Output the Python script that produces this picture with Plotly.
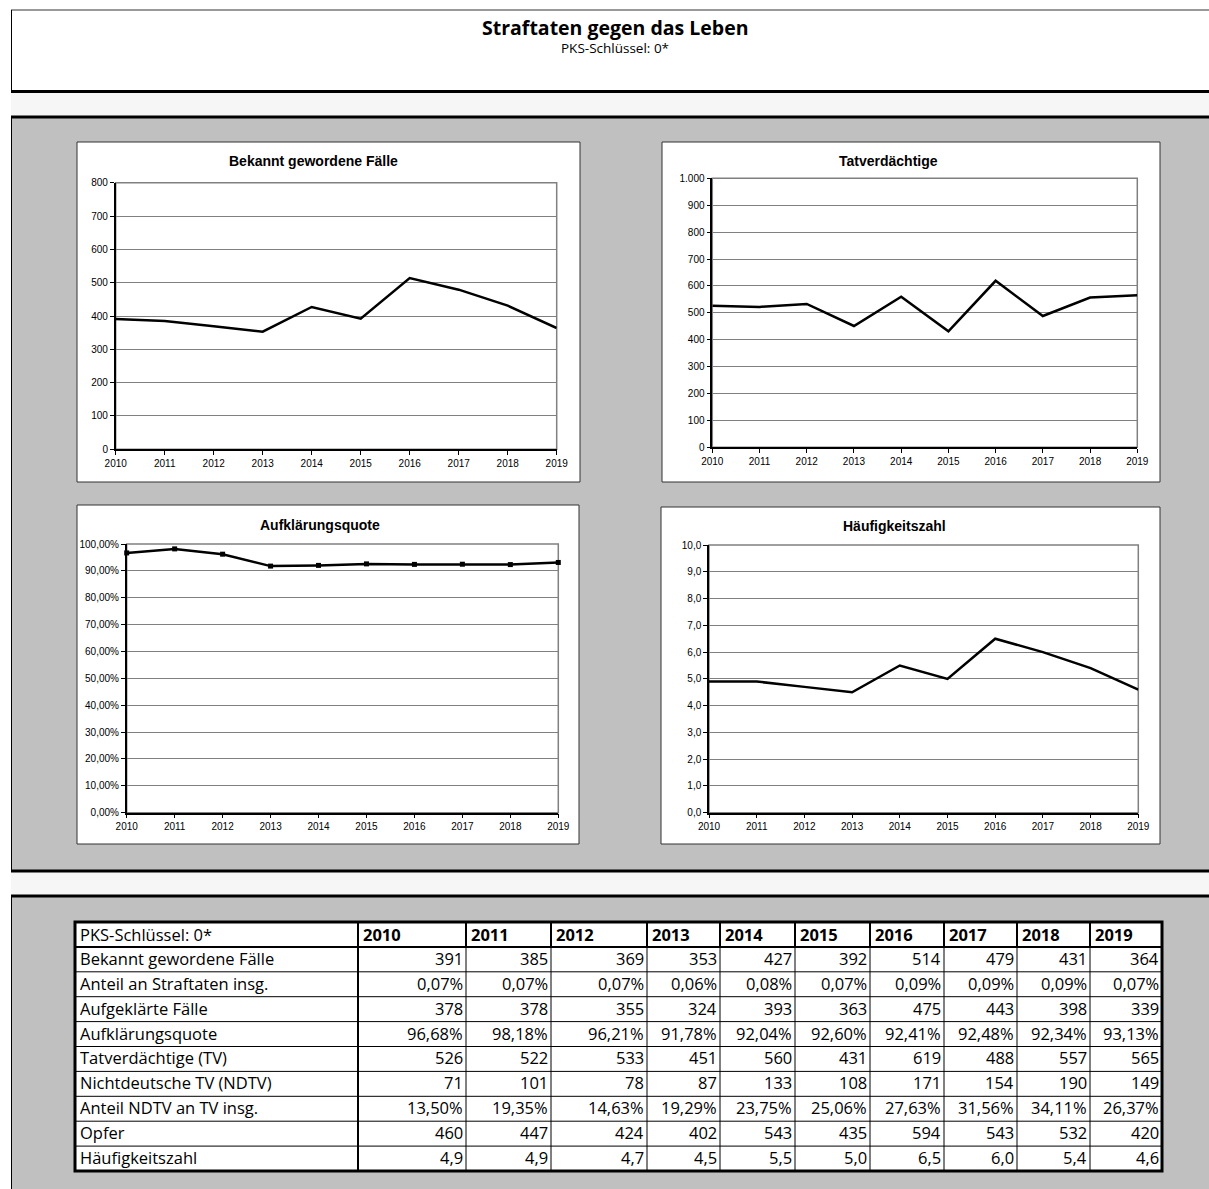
import plotly.graph_objects as go

W, H = 1209, 1189

# ---------------------------------------------------------------- data
years = [2010, 2011, 2012, 2013, 2014, 2015, 2016, 2017, 2018, 2019]
faelle = [391, 385, 369, 353, 427, 392, 514, 479, 431, 364]
anteil_straftaten = [0.07, 0.07, 0.07, 0.06, 0.08, 0.07, 0.09, 0.09, 0.09, 0.07]
aufgeklaert = [378, 378, 355, 324, 393, 363, 475, 443, 398, 339]
aufklaerungsquote = [96.68, 98.18, 96.21, 91.78, 92.04, 92.60, 92.41, 92.48, 92.34, 93.13]
tatverdaechtige = [526, 522, 533, 451, 560, 431, 619, 488, 557, 565]
ndtv = [71, 101, 78, 87, 133, 108, 171, 154, 190, 149]
anteil_ndtv = [13.50, 19.35, 14.63, 19.29, 23.75, 25.06, 27.63, 31.56, 34.11, 26.37]
opfer = [460, 447, 424, 402, 543, 435, 594, 543, 532, 420]
haeufigkeitszahl = [4.9, 4.9, 4.7, 4.5, 5.5, 5.0, 6.5, 6.0, 5.4, 4.6]

row_labels = [
    "Bekannt gewordene Fälle",
    "Anteil an Straftaten insg.",
    "Aufgeklärte Fälle",
    "Aufklärungsquote",
    "Tatverdächtige (TV)",
    "Nichtdeutsche TV (NDTV)",
    "Anteil NDTV an TV insg.",
    "Opfer",
    "Häufigkeitszahl",
]


def de_num(v, dec):
    return f"{v:.{dec}f}".replace(".", ",")


def de_pct(v):
    return de_num(v, 2) + "%"


row_cells = [
    [str(v) for v in faelle],
    [de_pct(v) for v in anteil_straftaten],
    [str(v) for v in aufgeklaert],
    [de_pct(v) for v in aufklaerungsquote],
    [str(v) for v in tatverdaechtige],
    [str(v) for v in ndtv],
    [de_pct(v) for v in anteil_ndtv],
    [str(v) for v in opfer],
    [de_num(v, 1) for v in haeufigkeitszahl],
]


# ---------------------------------------------------------------- helpers
def px(x):
    return x / W


def py(y):
    return 1 - y / H


ARIAL = "Arial, Liberation Sans, sans-serif"
SANS = "Open Sans, Noto Sans, sans-serif"
PANEL = "#c0c0c0"
BAND = "#f6f6f6"

shapes = []
annotations = []


def rect(x0, y0, x1, y1, fill, line_color=None, line_width=0):
    shapes.append(dict(
        type="rect", xref="paper", yref="paper",
        x0=px(x0), x1=px(x1), y0=py(y1), y1=py(y0),
        fillcolor=fill, line=dict(color=line_color or fill, width=line_width),
        layer="below"))


def hline(x0, x1, y, width=1, color="black"):
    shapes.append(dict(
        type="line", xref="paper", yref="paper",
        x0=px(x0), x1=px(x1), y0=py(y), y1=py(y),
        line=dict(color=color, width=width), layer="below"))


def vline(x, y0, y1, width=1, color="black"):
    shapes.append(dict(
        type="line", xref="paper", yref="paper",
        x0=px(x), x1=px(x), y0=py(y0), y1=py(y1),
        line=dict(color=color, width=width), layer="below"))


def text(x, y, s, size, family=SANS, bold=False, xanchor="center"):
    annotations.append(dict(
        xref="paper", yref="paper", x=px(x), y=py(y),
        text=f"<b>{s}</b>" if bold else s, showarrow=False,
        xanchor=xanchor, yanchor="middle", borderpad=0,
        font=dict(family=family, size=size, color="black")))


# ---------------------------------------------------------------- page frame
RIGHT = 1215
rect(11, 10, RIGHT, 91, "white")
hline(11, RIGHT, 10, 1, "#333333")
vline(11.5, 10, 91)
rect(11, 92, RIGHT, 116, BAND)
rect(11, 117, RIGHT, 871, PANEL)
vline(11.5, 117, 871)
rect(11, 872, RIGHT, 895, BAND)
rect(11, 896, RIGHT, 1195, PANEL)
vline(11.5, 896, 1195)
for yy in (91.5, 117, 871, 896):
    hline(11, RIGHT, yy, 3)

text(615, 27, "Straftaten gegen das Leben", 19.5, bold=True)
text(615, 48.5, "PKS-Schlüssel: 0*", 13.5)

# ---------------------------------------------------------------- charts
charts = [
    dict(title="Bekannt gewordene Fälle", values=faelle,
         box=(77, 142, 580, 482), area=(115.7, 182.7, 556.7, 449.3),
         title_pos=(313, 161.5), rng=[0, 800], dtick=100, fmt="d", markers=False),
    dict(title="Tatverdächtige", values=tatverdaechtige,
         box=(662, 142, 1160, 482), area=(712.3, 178.3, 1137.3, 447.3),
         title_pos=(889, 160.5), rng=[0, 1000], dtick=100, fmt=",d", markers=False),
    dict(title="Aufklärungsquote", values=[v / 100 for v in aufklaerungsquote],
         box=(77, 505, 579, 844), area=(126.7, 544, 558.3, 812.7),
         title_pos=(320, 524.5), rng=[0, 1], dtick=0.1, fmt=".2%", markers=True),
    dict(title="Häufigkeitszahl", values=haeufigkeitszahl,
         box=(661, 507, 1160, 844), area=(709, 545, 1138.3, 812.7),
         title_pos=(894, 526), rng=[0, 10], dtick=1, fmt=".1f", markers=False),
]

fig = go.Figure()
layout_axes = {}
for i, c in enumerate(charts, start=1):
    sfx = "" if i == 1 else str(i)
    bx0, by0, bx1, by1 = c["box"]
    rect(bx0, by0, bx1, by1, "white", "#333333", 1)
    ax0, ay0, ax1, ay1 = c["area"]

    fig.add_trace(go.Scatter(
        x=years, y=c["values"], xaxis="x" + sfx, yaxis="y" + sfx,
        mode="lines+markers" if c["markers"] else "lines",
        line=dict(color="black", width=2.5),
        marker=dict(symbol="square", size=5, color="black"),
        cliponaxis=False, showlegend=False, hoverinfo="x+y"))

    # grey frame on top/right of the plot area
    shapes.append(dict(type="rect", xref=f"x{sfx} domain", yref=f"y{sfx} domain",
                       x0=0, x1=1, y0=0, y1=1, line=dict(color="#808080", width=1.5),
                       layer="below"))

    layout_axes["xaxis" + sfx] = dict(
        domain=[px(ax0), px(ax1)], anchor="y" + sfx, range=[2010, 2019],
        tickmode="array", tickvals=years, tickformat="d",
        showgrid=False, zeroline=False, showline=True, linecolor="black", linewidth=1.5,
        ticks="outside", ticklen=4, tickwidth=1, tickcolor="black",
        tickfont=dict(family=ARIAL, size=10, color="black"), fixedrange=True)
    layout_axes["yaxis" + sfx] = dict(
        domain=[py(ay1), py(ay0)], anchor="x" + sfx, range=c["rng"],
        tick0=0, dtick=c["dtick"], tickformat=c["fmt"],
        showgrid=True, gridcolor="#808080", gridwidth=1, zeroline=False,
        showline=True, linecolor="black", linewidth=1.5,
        ticks="outside", ticklen=4, tickwidth=1, tickcolor="black",
        tickfont=dict(family=ARIAL, size=10, color="black"), fixedrange=True)

    tx, ty = c["title_pos"]
    text(tx, ty, c["title"], 14, family=ARIAL, bold=True)

# ---------------------------------------------------------------- table
col_edges = [75, 358, 466, 551, 647, 720, 795, 870, 944, 1017, 1090, 1162]
top, row_h = 922, 24.9
n_rows = len(row_labels) + 1
row_edges = [top + row_h * k for k in range(n_rows + 1)]
bottom = row_edges[-1]

rect(col_edges[0], top, col_edges[-1], bottom, "white")
for k, yy in enumerate(row_edges[1:-1], start=1):
    hline(col_edges[0], col_edges[-1], yy, 2 if k == 1 else 1)
for k, xx in enumerate(col_edges[1:-1], start=1):
    vline(xx, top, bottom, 2 if k == 1 else 1)
    vline(xx, top, row_edges[1], 2)
shapes.append(dict(type="rect", xref="paper", yref="paper",
                   x0=px(col_edges[0]), x1=px(col_edges[-1]), y0=py(bottom), y1=py(top),
                   line=dict(color="black", width=3), fillcolor="rgba(0,0,0,0)",
                   layer="below"))

TFS = 16.5
# header row
hy = (row_edges[0] + row_edges[1]) / 2
text(col_edges[0] + 4, hy, "PKS-Schlüssel: 0*", TFS, xanchor="left")
for j, yr in enumerate(years):
    text(col_edges[j + 1] + 4, hy, str(yr), TFS, bold=True, xanchor="left")
# body rows
for r, (label, cells) in enumerate(zip(row_labels, row_cells), start=1):
    cy = (row_edges[r] + row_edges[r + 1]) / 2 - 1
    text(col_edges[0] + 4, cy, label, TFS, xanchor="left")
    for j, s in enumerate(cells):
        text(col_edges[j + 2] - 2, cy, s, TFS, xanchor="right")

fig.update_layout(
    width=W, height=H,
    margin=dict(l=0, r=0, t=0, b=0, pad=0, autoexpand=False),
    paper_bgcolor="white", plot_bgcolor="white",
    separators=",.", showlegend=False,
    shapes=shapes, annotations=annotations, **layout_axes)

# page without body margin so the figure sits at the window's top-left corner
fig.write_html(
    "out.html",
    post_script="document.body.style.margin='0';"
                "document.documentElement.style.overflow='hidden';")
